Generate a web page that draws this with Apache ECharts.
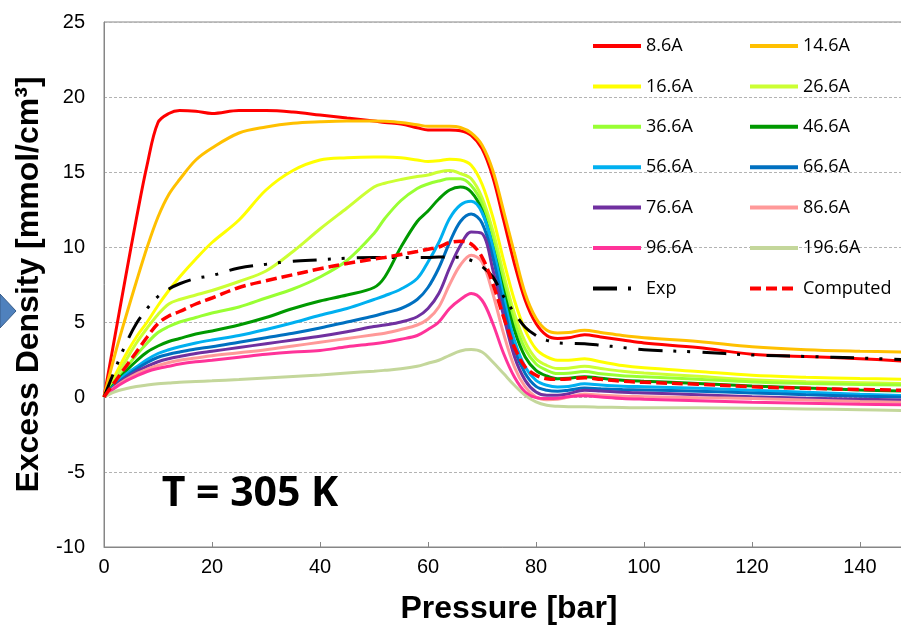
<!DOCTYPE html>
<html>
<head>
<meta charset="utf-8">
<script src="https://cdn.jsdelivr.net/npm/echarts@6/dist/echarts.min.js"></script>
<style>
  html, body { margin: 0; padding: 0; background: #fff; }
  #chart { width: 901px; height: 625px; }
</style>
</head>
<body>
<div id="chart"></div>
<script>
// pressure points [bar], shared by all curves
const pressure = [0, 2, 4, 6, 8, 10, 12, 14, 17, 20, 25, 30, 35, 40, 45, 50, 52, 55, 58, 60,
  62, 64, 66, 68, 70, 72, 74, 76, 78, 80, 82, 84, 86, 89, 92, 96, 100, 110, 120, 130, 140, 148];

// excess density [mmol/cm3] per pore width
const pore8_6 = [0, 4.0, 8.0, 11.9, 15.5, 18.3, 18.9, 19.1, 19.05, 18.9, 19.1, 19.1, 19.0, 18.8, 18.6, 18.4, 18.3, 18.2, 17.95, 17.8,
  17.8, 17.8, 17.75, 17.45, 16.56, 14.67, 11.8, 8.9, 6.45, 4.9, 4.1, 3.9, 3.95, 4.15, 4.0, 3.8, 3.6, 3.3, 2.85, 2.7, 2.55, 2.4];
const pore14_6 = [0, 2.8, 5.3, 7.7, 10.0, 12.0, 13.5, 14.5, 15.8, 16.6, 17.6, 18.0, 18.25, 18.35, 18.4, 18.4, 18.38, 18.3, 18.15, 18.05,
  18.05, 18.05, 17.97, 17.6, 16.8, 15.1, 12.4, 9.6, 6.9, 5.25, 4.45, 4.27, 4.3, 4.45, 4.3, 4.1, 3.95, 3.7, 3.35, 3.15, 3.05, 3.0];
const pore16_6 = [0, 1.4, 2.8, 4.0, 5.0, 6.1, 7.1, 8.0, 9.2, 10.3, 11.8, 13.8, 15.1, 15.8, 15.95, 16.0, 16.0, 15.95, 15.8, 15.7,
  15.75, 15.85, 15.8, 15.45, 14.2, 12.0, 9.1, 6.45, 4.45, 3.2, 2.67, 2.45, 2.45, 2.55, 2.35, 2.1, 1.95, 1.7, 1.45, 1.32, 1.23, 1.18];
const pore26_6 = [0, 1.2, 2.4, 3.6, 4.6, 5.5, 6.2, 6.5, 6.8, 7.1, 7.7, 8.4, 9.7, 11.2, 12.6, 14.0, 14.25, 14.5, 14.7, 14.8,
  15.0, 15.1, 14.9, 14.55, 13.3, 11.1, 8.2, 5.55, 3.67, 2.55, 2.1, 1.9, 1.92, 2.05, 1.9, 1.72, 1.6, 1.38, 1.15, 1.02, 0.95, 0.9];
const pore36_6 = [0, 1.0, 1.9, 2.8, 3.6, 4.3, 4.7, 5.0, 5.3, 5.6, 6.0, 6.6, 7.2, 8.0, 9.1, 10.9, 11.9, 13.1, 13.9, 14.2,
  14.4, 14.55, 14.55, 14.1, 12.9, 10.56, 7.67, 5.0, 3.2, 2.2, 1.78, 1.56, 1.58, 1.7, 1.55, 1.42, 1.35, 1.18, 1.0, 0.9, 0.83, 0.8];
const pore46_6 = [0, 0.9, 1.7, 2.4, 3.0, 3.4, 3.7, 3.9, 4.2, 4.4, 4.8, 5.3, 5.9, 6.4, 6.8, 7.3, 8.0, 10.0, 11.7, 12.4,
  13.2, 13.8, 14.0, 13.67, 12.45, 10.0, 7.1, 4.45, 2.67, 1.78, 1.4, 1.22, 1.25, 1.35, 1.25, 1.12, 1.05, 0.9, 0.73, 0.6, 0.47, 0.4];
const pore56_6 = [0, 0.8, 1.5, 2.0, 2.5, 2.9, 3.15, 3.35, 3.6, 3.8, 4.1, 4.5, 4.95, 5.45, 5.9, 6.5, 6.75, 7.2, 7.9, 9.0,
  10.3, 11.9, 12.8, 13.05, 12.3, 10.0, 6.67, 3.78, 2.0, 1.11, 0.78, 0.67, 0.7, 0.88, 0.8, 0.72, 0.68, 0.58, 0.45, 0.32, 0.18, 0.1];
const pore66_6 = [0, 0.75, 1.35, 1.85, 2.3, 2.65, 2.85, 3.0, 3.2, 3.35, 3.65, 3.95, 4.25, 4.6, 5.0, 5.4, 5.6, 5.9, 6.5, 7.3,
  8.6, 10.3, 11.7, 12.2, 11.6, 9.3, 6.1, 3.2, 1.56, 0.71, 0.45, 0.38, 0.45, 0.6, 0.55, 0.5, 0.47, 0.38, 0.27, 0.15, 0.05, 0.0];
const pore76_6 = [0, 0.7, 1.25, 1.7, 2.05, 2.35, 2.55, 2.7, 2.9, 3.05, 3.3, 3.55, 3.8, 4.05, 4.35, 4.7, 4.8, 5.0, 5.35, 5.9,
  6.9, 8.6, 10.1, 11.0, 10.9, 8.5, 5.4, 2.7, 1.11, 0.33, 0.11, 0.11, 0.22, 0.45, 0.4, 0.32, 0.27, 0.15, 0.02, -0.08, -0.15, -0.2];
const pore86_6 = [0, 0.65, 1.15, 1.55, 1.85, 2.1, 2.3, 2.45, 2.6, 2.75, 2.95, 3.15, 3.4, 3.65, 3.9, 4.15, 4.25, 4.5, 4.8, 5.2,
  6.0, 7.5, 8.8, 9.45, 9.0, 6.9, 4.22, 2.0, 0.67, 0.0, -0.18, -0.15, 0.0, 0.2, 0.12, 0.05, 0.02, -0.05, -0.1, -0.2, -0.3, -0.35];
const pore96_6 = [0, 0.6, 1.05, 1.4, 1.7, 1.9, 2.05, 2.2, 2.35, 2.45, 2.65, 2.85, 3.0, 3.1, 3.35, 3.55, 3.65, 3.85, 4.1, 4.5,
  5.0, 5.9, 6.5, 6.9, 6.45, 4.9, 2.9, 1.33, 0.33, -0.04, -0.1, -0.08, 0.02, 0.08, 0.0, -0.1, -0.15, -0.25, -0.35, -0.42, -0.48, -0.52];
const pore196_6 = [0, 0.35, 0.55, 0.7, 0.8, 0.88, 0.93, 0.98, 1.03, 1.08, 1.17, 1.27, 1.37, 1.47, 1.6, 1.72, 1.78, 1.88, 2.05, 2.25,
  2.45, 2.78, 3.07, 3.16, 3.0, 2.33, 1.56, 0.78, 0.11, -0.33, -0.55, -0.62, -0.65, -0.65, -0.68, -0.7, -0.72, -0.72, -0.75, -0.8, -0.85, -0.9];
const expData = [0, 1.8, 3.5, 4.9, 5.9, 6.7, 7.2, 7.55, 7.9, 8.1, 8.6, 8.85, 9.05, 9.15, 9.25, 9.3, 9.3, 9.3, 9.3, 9.3,
  9.33, 9.33, 9.3, 9.1, 8.7, 8.0, 6.7, 5.6, 4.65, 4.1, 3.78, 3.62, 3.58, 3.55, 3.45, 3.3, 3.15, 3.0, 2.8, 2.7, 2.6, 2.5];
const computed = [0, 1.0, 2.0, 3.0, 4.0, 4.9, 5.4, 5.7, 6.2, 6.6, 7.3, 7.75, 8.15, 8.55, 8.9, 9.2, 9.3, 9.5, 9.7, 9.85,
  10.0, 10.3, 10.38, 10.2, 9.33, 7.56, 5.33, 3.33, 2.0, 1.45, 1.22, 1.18, 1.2, 1.28, 1.18, 1.05, 0.98, 0.85, 0.68, 0.58, 0.5, 0.45];

const poreNames = ['8.6A', '14.6A', '16.6A', '26.6A', '36.6A', '46.6A', '56.6A', '66.6A', '76.6A', '86.6A', '96.6A', '196.6A'];
const poreValues = [pore8_6, pore14_6, pore16_6, pore26_6, pore36_6, pore46_6, pore56_6, pore66_6, pore76_6, pore86_6, pore96_6, pore196_6];
const poreColors = ['#FF0000', '#FFC000', '#FFFF00', '#CCFF33', '#99FF33', '#009900', '#00B0F0', '#0070C0', '#7030A0', '#FF9999', '#FF3399', '#C4D79B'];

const legendLeft = ['8.6A', '16.6A', '36.6A', '56.6A', '76.6A', '96.6A', 'Exp'];
const legendRight = ['14.6A', '26.6A', '46.6A', '66.6A', '86.6A', '196.6A', 'Computed'];

const toPoints = vals => pressure.map((p, i) => [p, vals[i]]);

let series = poreNames.map((name, k) => ({
    name: name,
    type: 'line',
    data: toPoints(poreValues[k]),
    smooth: 0.35,
    symbol: 'none',
    color: poreColors[k],
    lineStyle: {width: 3, color: poreColors[k]}
}));

series.push({
    name: 'Exp',
    type: 'line',
    data: toPoints(expData),
    smooth: 0.35,
    symbol: 'none',
    color: '#000000',
    lineStyle: {width: 3, color: '#000000', type: [24, 11, 3, 11, 3, 12]}
});

series.push({
    name: 'Computed',
    type: 'line',
    data: toPoints(computed),
    smooth: 0.35,
    symbol: 'none',
    color: '#FF0000',
    lineStyle: {width: 3.5, color: '#FF0000', type: [11, 5]}
});

const legendBase = {
    orient: 'vertical',
    top: 31,
    itemWidth: 48,
    itemHeight: 20,
    itemGap: 20.4,
    selectedMode: false,
    itemStyle: {opacity: 0},
    lineStyle: {width: 4},
    textStyle: {fontFamily: 'Open Sans', fontSize: 18, color: '#000', lineHeight: 20}
};

let myChart = echarts.init(document.getElementById('chart'));

let option = {
    animation: false,
    grid: {
        left: 104, top: 22, width: 810, height: 525,
        outerBoundsMode: 'none',
        show: true, borderColor: '#868686', borderWidth: 1
    },
    legend: [
        Object.assign({}, legendBase, {left: 586, data: legendLeft}),
        Object.assign({}, legendBase, {left: 743, data: legendRight})
    ],
    xAxis: {
        type: 'value',
        min: 0,
        max: 150,
        interval: 20,
        name: 'Pressure [bar]',
        nameLocation: 'middle',
        nameGap: 46,
        nameTextStyle: {fontFamily: 'Liberation Sans', fontSize: 32, fontWeight: 'bold', color: '#000'},
        axisLine: {onZero: false, lineStyle: {color: '#868686'}},
        axisTick: {inside: true, length: 5, lineStyle: {color: '#868686'}},
        axisLabel: {fontFamily: 'Liberation Sans', fontSize: 20, color: '#000', margin: 10, showMaxLabel: false},
        splitLine: {show: false}
    },
    yAxis: {
        type: 'value',
        min: -10,
        max: 25,
        interval: 5,
        name: 'Excess Density [mmol/cm³]',
        nameLocation: 'middle',
        nameGap: 49,
        nameTextStyle: {fontFamily: 'Liberation Sans', fontSize: 32, fontWeight: 'bold', color: '#000'},
        axisLine: {show: true, lineStyle: {color: '#868686'}},
        axisTick: {show: false},
        axisLabel: {fontFamily: 'Liberation Sans', fontSize: 20, color: '#000', margin: 19},
        splitLine: {lineStyle: {color: '#b3b3b3', type: [3, 2], width: 1}}
    },
    graphic: [
        {
            type: 'polygon',
            shape: {points: [[0, 294], [16, 311], [0, 328]]},
            style: {fill: '#4F81BD', stroke: '#385D8A', lineWidth: 1}
        },
        {
            type: 'text',
            x: 250,
            y: 494,
            style: {
                text: 'T = 305 K',
                font: 'bold 41px "Open Sans"',
                fill: '#000',
                align: 'center',
                verticalAlign: 'middle'
            }
        }
    ],
    series: series
};

myChart.setOption(option);
</script>
</body>
</html>
